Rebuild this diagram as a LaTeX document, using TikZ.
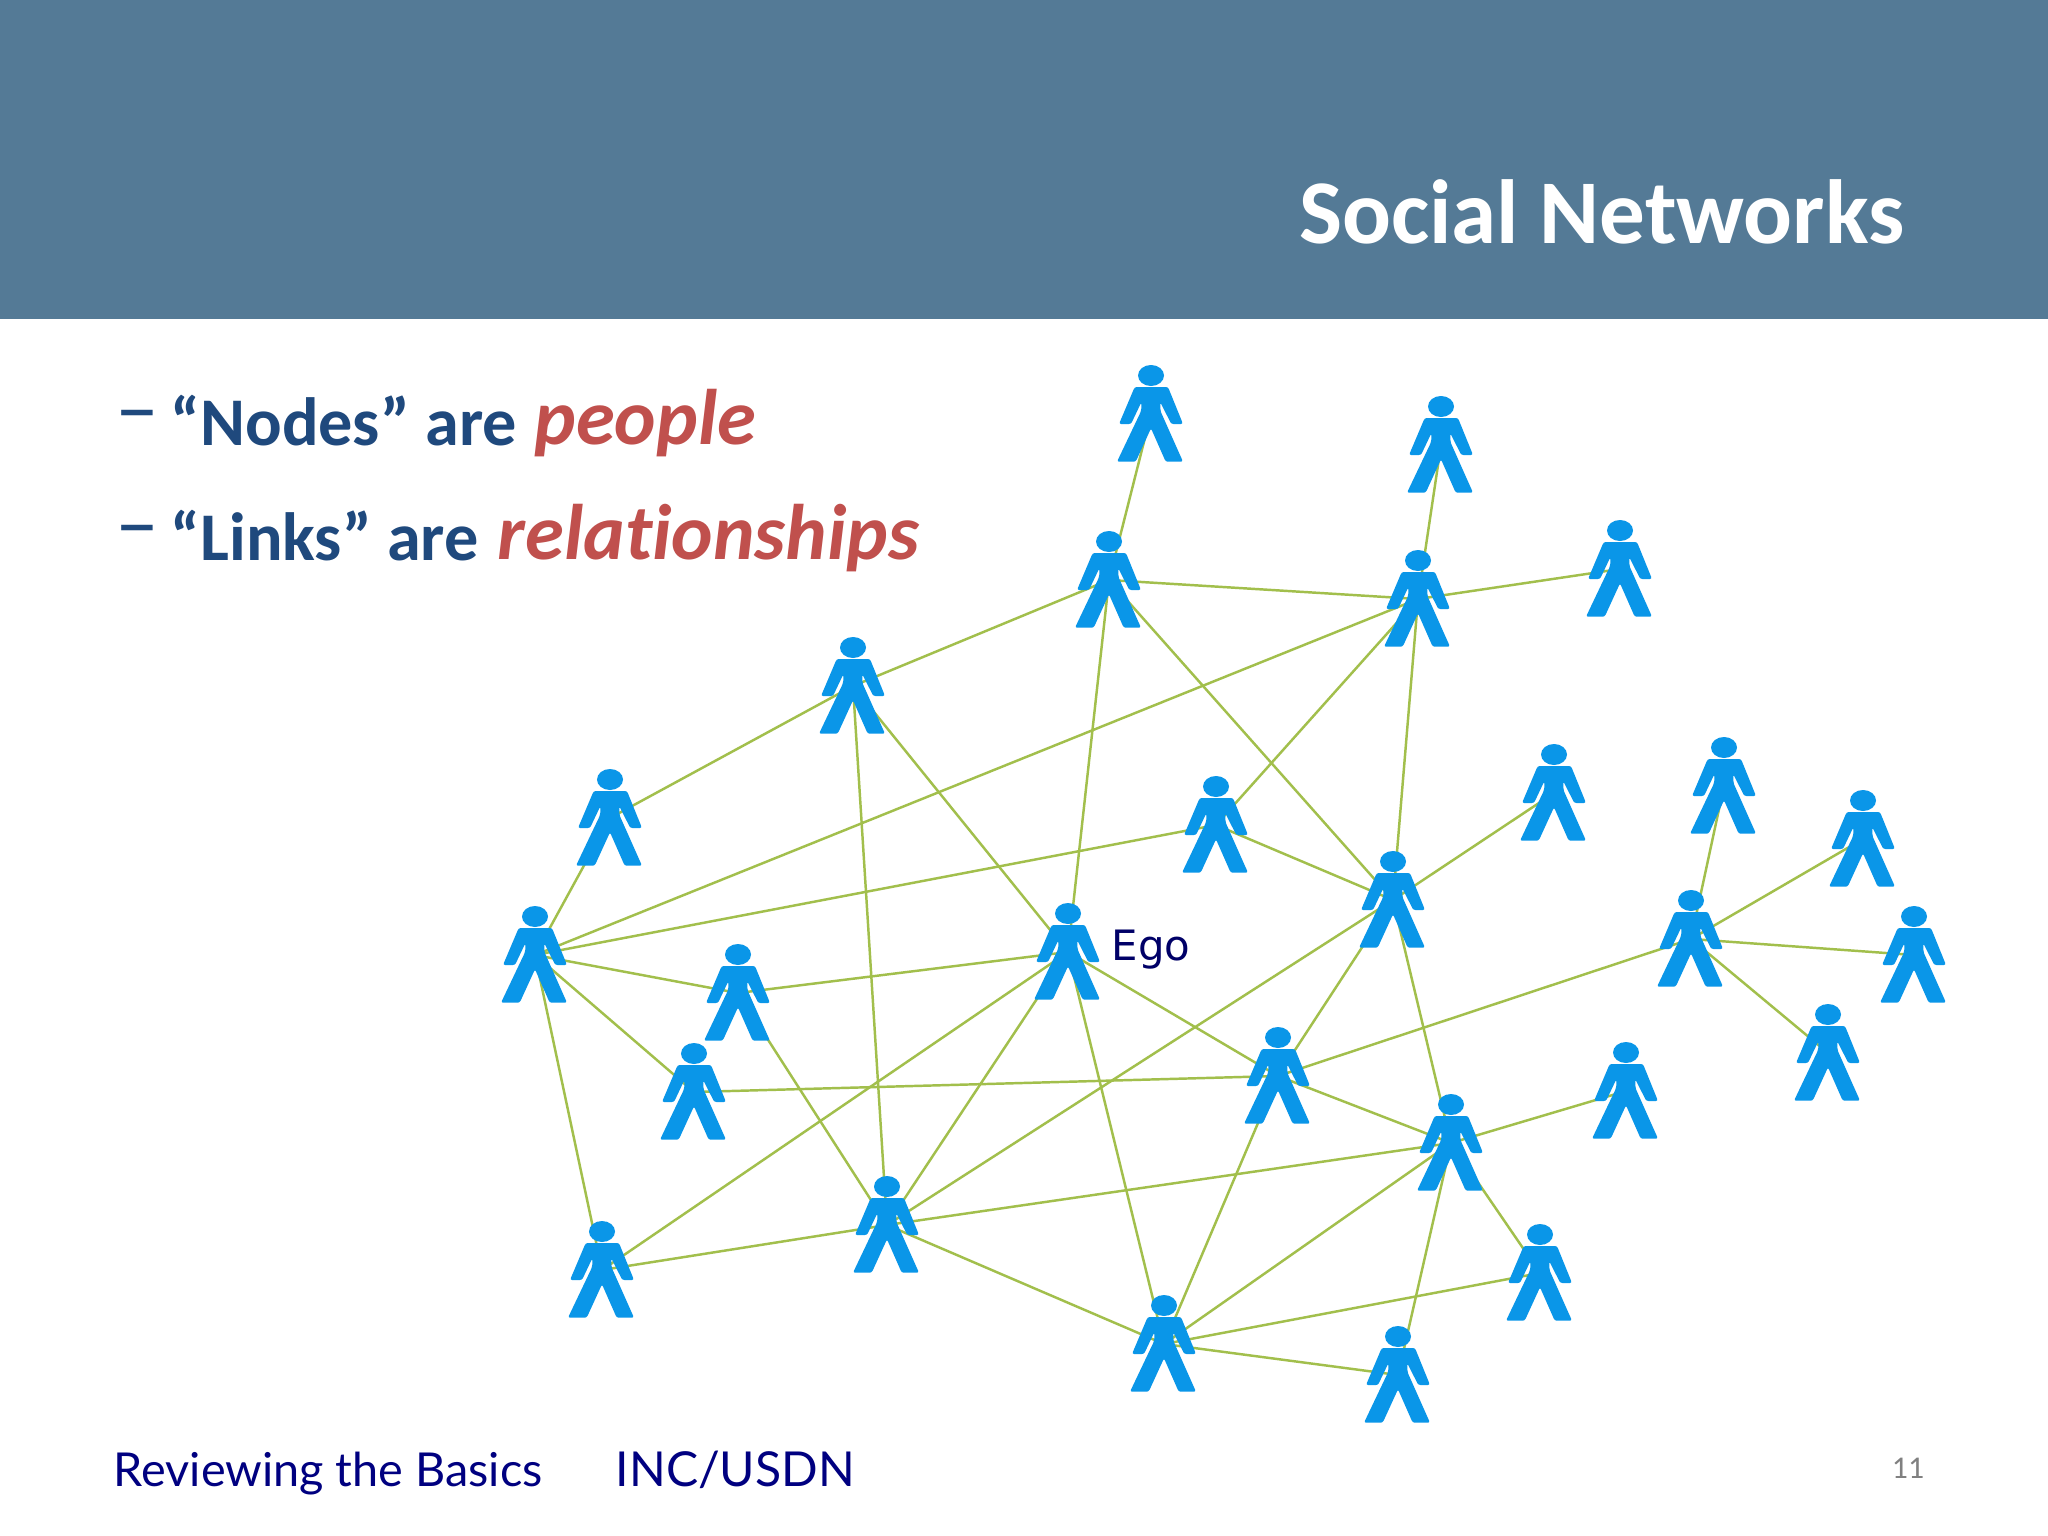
\documentclass[tikz,border=0pt]{standalone}
\usepackage{fontspec}
\setmainfont[Ligatures=NoCommon]{Carlito}
\newfontfamily\footfont{Lato}
\newfontfamily\egofont{DejaVu Sans}
\usetikzlibrary{
  positioning,
  backgrounds
}
\definecolor{headblue}{HTML}{547A96}
\definecolor{linkgreen}{HTML}{A2BF4C}
\definecolor{personblue}{HTML}{0A96E8}
\definecolor{bulletblue}{HTML}{1F497D}
\definecolor{wordred}{HTML}{C0504D}
\definecolor{footblue}{HTML}{000080}
\tikzset{
  person/.style={inner sep=0pt,outer sep=0pt,minimum width=0.7cm,minimum height=1cm,
    path picture={
      \fill[personblue] (0,-38.5) ellipse (0.13cm and 0.105cm);
      \fill[personblue,rounded corners=0.6pt] (-16.3,-27) -- (-32,10) -- (-20,10) -- (-9.7,-11.7) -- (-9.7,-3.3)
        -- (-34,47.7) -- (-15.3,47.7) -- (0,14.3) -- (14.7,47.7) -- (32,47.7) -- (9.3,-3.3) -- (9.3,-11.7)
        -- (20.3,10) -- (32,10) -- (17,-27) -- cycle;
    }},
  link/.style={linkgreen,line width=0.7pt},
  bullet/.style={anchor=base west,inner sep=0pt,text=bulletblue,font=\bfseries\fontsize{19.4}{22}\selectfont},
  word/.style={anchor=base west,inner sep=0pt,text=wordred,font=\bfseries\itshape\fontsize{22.4}{26}\selectfont}
}
\begin{document}
\begin{tikzpicture}[x=0.01cm,y=-0.01cm]
\useasboundingbox (0,0) rectangle (2048,1536);
\fill[headblue] (0,0) rectangle (2048,319);
\node[anchor=base east,inner sep=0pt,text=white,font=\bfseries\fontsize{25.9}{30}\selectfont] (title) at (1905,243) {Social Networks};
% first line
\node[bullet,font=\fontsize{25}{28}\selectfont] (dashone) at (115,437) {–};
\node[bullet] (nodes) at (170,445) {“Nodes” are};
\node[word] (people) at (534,444) {people};
% second line
\node[bullet,font=\fontsize{25}{28}\selectfont] (dashtwo) at (115,552) {–};
\node[bullet] (links) at (170,560) {“Links” are};
\node[word] (relations) at (497,559) {relationships};
% people
\foreach \name/\x/\y in {a/1151/414,b/1441/445,c/1109/580,d/1418/599,e/1620/569,f/853/686,g/610/818,
  h/1216/825,i/1554/793,j/1724/786,k/1863/839,l/1393/900,m/1691/939,n/1914/955,o/535/955,p/738/993,
  ego/1068/952,q/694/1092,r/1278/1076,s/1828/1053,t/1626/1091,u/1451/1143,v/602/1270,w/887/1225,
  x/1540/1273,y/1164/1344,z/1398/1375}
  \node[person] (\name) at (\x,\y) {};
\node[anchor=base west,inner sep=0pt,text=footblue!80!black,font=\egofont\fontsize{11.9}{14}\selectfont] (egolabel) at (1111,960) {Ego};
% links go behind the people
\begin{scope}[on background layer]
\fill[white] (0,319) rectangle (2048,1536);
\foreach \from/\to in {a/c,b/d,c/d,d/e,f/c,c/ego,c/l,d/h,d/l,d/o,f/g,f/w,f/ego,g/o,o/h,h/l,l/i,l/w,r/l,l/u,
  o/p,o/q,o/v,p/ego,p/w,q/r,ego/v,ego/w,ego/r,ego/y,r/m,r/u,r/y,u/t,u/w,u/y,u/x,u/z,v/w,w/y,y/x,y/z,
  m/j,m/k,m/n,m/s}
  \draw[link] (\from.center) -- (\to.center);
\end{scope}
% footer
\node[anchor=base west,inner sep=0pt,text=footblue,font=\footfont\fontsize{13.3}{16}\selectfont] (basics) at (113,1486) {Reviewing the Basics};
\node[anchor=base west,inner sep=0pt,text=footblue,font=\footfont\fontsize{13.7}{16}\selectfont] (inc) at (615,1486) {INC/USDN};
\node[inner sep=0pt,text=black!50,font=\fontsize{9}{11}\selectfont] (pagenum) at (1908,1468) {11};
\end{tikzpicture}
\end{document}
